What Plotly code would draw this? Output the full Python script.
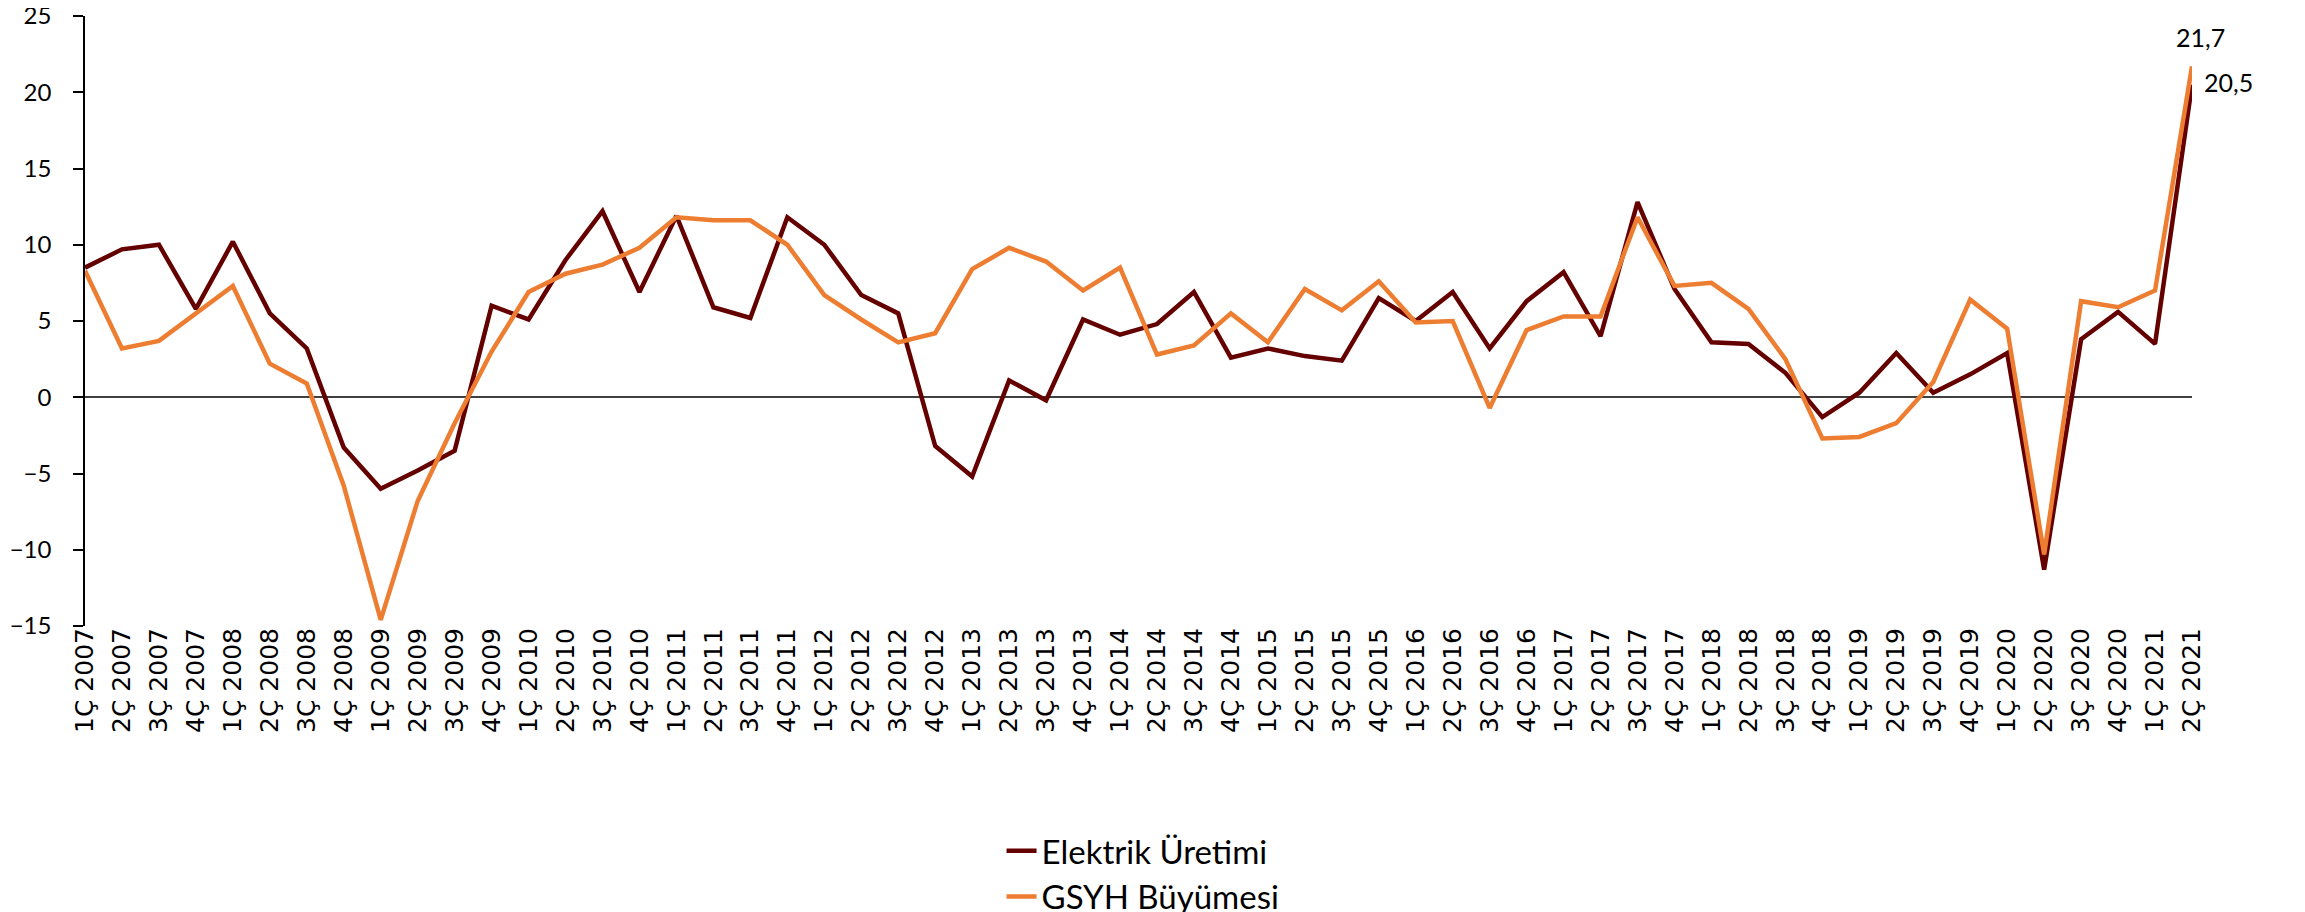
import plotly.graph_objects as go

quarters = [f"{q}Ç {y}" for y in range(2007, 2022) for q in range(1, 5)][:58]

elektrik_uretimi = [8.5, 9.7, 10.0, 5.8, 10.2, 5.5, 3.2, -3.3, -6.0, -4.8,
                    -3.5, 6.0, 5.1, 9.0, 12.2, 6.9, 11.9, 5.9, 5.2, 11.8,
                    10.0, 6.7, 5.5, -3.2, -5.2, 1.1, -0.2, 5.1, 4.1, 4.8,
                    6.9, 2.6, 3.2, 2.7, 2.4, 6.5, 5.0, 6.9, 3.2, 6.3,
                    8.2, 4.0, 12.8, 7.1, 3.6, 3.5, 1.6, -1.3, 0.3, 2.9,
                    0.3, 1.5, 2.9, -11.3, 3.8, 5.6, 3.5, 20.5]

gsyh_buyumesi = [8.3, 3.2, 3.7, 5.5, 7.3, 2.2, 0.9, -5.8, -14.6, -6.8,
                 -1.7, 3.0, 6.9, 8.1, 8.7, 9.8, 11.8, 11.6, 11.6, 10.0,
                 6.7, 5.1, 3.6, 4.2, 8.4, 9.8, 8.9, 7.0, 8.5, 2.8,
                 3.4, 5.5, 3.6, 7.1, 5.7, 7.6, 4.9, 5.0, -0.7, 4.4,
                 5.3, 5.3, 11.8, 7.3, 7.5, 5.8, 2.5, -2.7, -2.6, -1.7,
                 1.0, 6.4, 4.5, -10.3, 6.3, 5.9, 7.0, 21.7]

y_ticks = [-15, -10, -5, 0, 5, 10, 15, 20, 25]

DARK = "#650000"
ORANGE = "#ED7D31"

fig = go.Figure()
fig.add_trace(go.Scatter(x=quarters, y=elektrik_uretimi, mode="lines",
                         name="Elektrik Üretimi",
                         line=dict(color=DARK, width=4.5)))
fig.add_trace(go.Scatter(x=quarters, y=gsyh_buyumesi, mode="lines",
                         name="GSYH Büyümesi",
                         line=dict(color=ORANGE, width=4.5)))

last = quarters[-1]
fig.add_annotation(x=last, y=gsyh_buyumesi[-1], text="21,7", showarrow=False,
                   xanchor="center", yanchor="bottom", yshift=12, xshift=8,
                   font=dict(family="Lato", size=25, color="black"))
fig.add_annotation(x=last, y=elektrik_uretimi[-1], text="20,5", showarrow=False,
                   xanchor="left", yanchor="middle", xshift=10, yshift=3,
                   font=dict(family="Lato", size=25, color="black"))

fig.update_layout(
    width=2305, height=912,
    margin=dict(l=77, r=121, t=8, b=294, autoexpand=False),
    plot_bgcolor="white", paper_bgcolor="white",
    font=dict(family="Lato", color="black"),
    separators=",.",
    showlegend=True,
    legend=dict(orientation="v", x=0.435, xanchor="left", y=-0.3225, yanchor="top",
                font=dict(family="Lato", size=33, color="black"),
                bgcolor="rgba(0,0,0,0)"),
)
fig.update_xaxes(type="category", range=[0, len(quarters) - 1],
                 automargin=False,
                 showgrid=False, zeroline=False, showline=False,
                 ticks="", tickangle=-90, ticklabelstandoff=-4,
                 tickfont=dict(family="DejaVu Sans", size=25, color="black"))
fig.update_yaxes(range=[-15, 25], tickvals=y_ticks, automargin=False,
                 ticklabeloverflow="allow",
                 showgrid=False, showline=True, linecolor="black", linewidth=1.5,
                 ticks="outside", ticklen=10, tickwidth=1.5, tickcolor="black",
                 zeroline=True, zerolinecolor="#404040", zerolinewidth=1.5,
                 ticklabelstandoff=17,
                 tickfont=dict(family="Lato", size=24, color="black"))

fig.write_html("out.html")
